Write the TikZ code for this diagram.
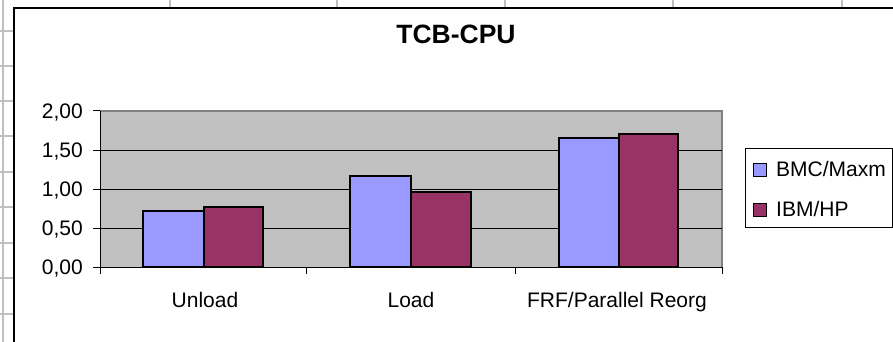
\documentclass[tikz,border=0pt]{standalone}
\usepackage{fontspec}
\setmainfont{Liberation Sans}
\definecolor{barblu}{HTML}{9999FF}
\definecolor{barrosso}{HTML}{993366}
\definecolor{sfondo}{HTML}{C0C0C0}
\begin{document}
\begin{tikzpicture}[x=1pt, y=-1pt, cella/.style = {draw=sfondo, line width=2.5pt}, barra/.style = {draw=black, line width=1.4pt}, etich/.style = {font=\fontsize{21}{25}\selectfont, inner sep=0pt}, quadro/.style = {draw=black, line width=1pt, minimum size=13pt, inner sep=0pt}] 
    \useasboundingbox (0,0) rectangle (893,342);
    % Disegna la griglia del foglio
    \draw[cella] (3,0) -- (3,342);
    \foreach \x in {170,337,505,673,842} \draw[cella] (\x,0) -- (\x,8);
    \foreach \y in {31,66,101,136,172,207,243,278,314} \draw[cella] (0,\y) -- (14,\y);
    
    % Disegna il riquadro del grafico
    \fill[white] (14,8) rectangle (893,342);
    \draw[black, line width=1.5pt] (14,342) -- (14,8) -- (893,8);
    \node[font=\fontsize{26.5}{30}\selectfont\bfseries, anchor=base] (titolo) at (456,44) {TCB-CPU};

    % Area del grafico
    \fill[sfondo] (100,111) rectangle (722,267);
    \draw[black!50, line width=1.8pt] (100,111) -- (722,111) -- (722,267);
    \foreach \y in {150,189,228} \draw[black, line width=0.8pt] (100,\y) -- (722,\y);

    % Disegna le barre
    \draw[barra, fill=barblu] (143,267) rectangle (204,211);
    \draw[barra, fill=barrosso] (204,267) rectangle (263,207);
    \draw[barra, fill=barblu] (350,267) rectangle (411,176);
    \draw[barra, fill=barrosso] (411,267) rectangle (471,192);
    \draw[barra, fill=barblu] (559,267) rectangle (619,138);
    \draw[barra, fill=barrosso] (619,267) rectangle (678,134);

    % Assi e tacche
    \draw[black, line width=1pt] (100,111) -- (100,267) -- (722,267);
    \foreach \y in {111,150,189,228,267} \draw[black, line width=1pt] (93,\y) -- (100,\y);
    \foreach \x in {100,306,515,722} \draw[black, line width=1pt] (\x,267) -- (\x,274);
    \foreach \v/\y [count=\i from 0] in {{0,00}/267,{0,50}/228,{1,00}/189,{1,50}/150,{2,00}/111}
        \node[etich, anchor=base east] (y\i) at (83,\y+7) {\v};

    % Etichette delle categorie
    \node[etich, anchor=base] (unload) at (205,307) {Unload};
    \node[etich, anchor=base] (load) at (411,307) {Load};
    \node[etich, anchor=base] (frf) at (617,307) {FRF/Parallel Reorg};

    % Legenda
    \draw[black, line width=1pt, fill=white] (745,148) rectangle (892,227);
    \node[quadro, fill=barblu] (q1) at (760,170) {};
    \node[quadro, fill=barrosso] (q2) at (760,210) {};
    \node[etich, anchor=base west] (bmc) at (776,176) {BMC/Maxm};
    \node[etich, anchor=base west] (ibm) at (776,216) {IBM/HP};

\end{tikzpicture}
\end{document}
